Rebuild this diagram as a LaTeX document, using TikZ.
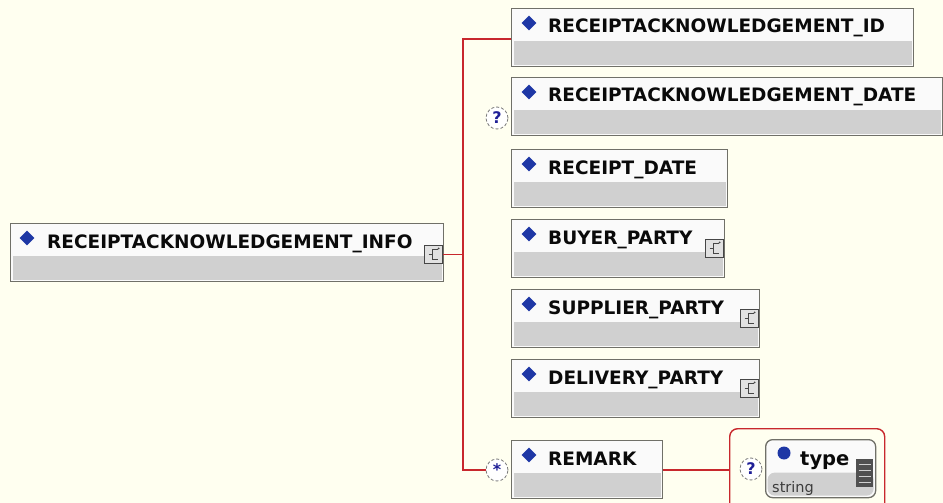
\documentclass[tikz,border=0pt]{standalone}
\usepackage{fontspec}
\setmainfont{DejaVu Sans}
\usetikzlibrary{shapes.geometric}
\definecolor{bgc}{RGB}{255,255,240}
\definecolor{redc}{RGB}{200,40,45}
\definecolor{boxc}{RGB}{112,112,104}
\definecolor{headc}{RGB}{250,250,250}
\definecolor{greyc}{RGB}{208,208,208}
\definecolor{diac}{RGB}{30,55,165}
\definecolor{txtc}{RGB}{10,10,10}
\definecolor{occc}{RGB}{120,120,120}
\definecolor{occt}{RGB}{30,30,150}
\definecolor{icc}{RGB}{70,70,70}
\definecolor{icf}{RGB}{225,225,225}
\definecolor{listc}{RGB}{80,80,80}
\definecolor{strc}{RGB}{60,60,60}
\newcommand{\childel}[4]{%
  \node[elem, minimum width=#3pt] (#1) at (511,#2) {};
  \node[dia] (#1d) at ([xshift=18pt,yshift=-15pt]#1.north west) {};
  \node[lbl] (#1t) at ([xshift=37pt,yshift=-25pt]#1.north west) {#4};
}
\begin{document}
\begin{tikzpicture}[x=1pt,y=-1pt,
  elem/.style={draw=boxc, line width=1.3pt, fill=headc, rectangle, inner sep=0pt,
    anchor=north west, minimum height=58pt,
    path picture={\fill[greyc] ([xshift=2pt,yshift=2pt]path picture bounding box.south west)
      rectangle ([xshift=-2pt,yshift=26pt]path picture bounding box.south east);}},
  lbl/.style={anchor=base west, inner sep=0pt, font=\fontsize{18.5}{20}\selectfont\bfseries, text=txtc},
  dia/.style={diamond, fill=diac, inner sep=0pt, minimum width=15pt, minimum height=15pt},
  occ/.style={circle, draw=occc, densely dashed, line width=0.8pt, fill=white, minimum size=22pt,
    inner sep=0pt, text=occt, font=\fontsize{16}{16}\selectfont\bfseries},
  expicon/.style={rectangle, draw=icc, line width=0.9pt, fill=icf, minimum width=18pt,
    minimum height=18pt, inner sep=0pt, anchor=north east,
    path picture={\draw[icc, line width=0.9pt]
      ([xshift=4pt,yshift=5pt]path picture bounding box.center) --
      ([xshift=-1pt,yshift=5pt]path picture bounding box.center) --
      ([xshift=-1pt,yshift=-5pt]path picture bounding box.center) --
      ([xshift=4pt,yshift=-5pt]path picture bounding box.center)
      ([xshift=-5pt]path picture bounding box.center) --
      ([xshift=-1pt]path picture bounding box.center);
      \fill[icc] ([xshift=5pt,yshift=6pt]path picture bounding box.center) circle (1pt);}},
  conn/.style={draw=redc, line width=1.4pt}
]
\useasboundingbox (0,0) rectangle (943,503);
\fill[bgc] (0,0) rectangle (943,503);
\clip (0,0) rectangle (943,503);

% root element
\node[elem, minimum width=433pt] (root) at (10,223) {};
\node[dia] (rootd) at (27,238) {};
\node[lbl] (roott) at (47,248) {RECEIPTACKNOWLEDGEMENT\_INFO};
\node[expicon] (rooti) at (443,245) {};

% children
\childel{id}{8}{402}{RECEIPTACKNOWLEDGEMENT\_ID}
\childel{date}{77}{431}{RECEIPTACKNOWLEDGEMENT\_DATE}
\childel{rdate}{149}{216}{RECEIPT\_DATE}
\childel{buyer}{219}{213}{BUYER\_PARTY}
\childel{supplier}{289}{248}{SUPPLIER\_PARTY}
\childel{delivery}{359}{248}{DELIVERY\_PARTY}
\childel{remark}{440}{151}{REMARK}

\node[expicon] (buyeri) at (724,239) {};
\node[expicon] (supplieri) at (759,309) {};
\node[expicon] (deliveryi) at (759,379) {};

% occurrence markers
\node[occ] (occdate) at (497,118) {?};
\node[occ] (occrem) at (497,470) {*};

% type
\node[draw=redc, line width=1.4pt, rounded corners=8pt, anchor=north west,
      minimum width=155pt, minimum height=95pt, inner sep=0pt] (tframe) at (729,428) {};
\node[draw=boxc, line width=1.3pt, fill=headc, rounded corners=7pt, anchor=north west,
      minimum width=110pt, minimum height=58pt, inner sep=0pt,
      path picture={\fill[greyc] ([xshift=2pt,yshift=2pt]path picture bounding box.south west)
      rectangle ([xshift=-2pt,yshift=25pt]path picture bounding box.south east);}] (tbox) at (765,439) {};
\node[circle, fill=diac, minimum size=13pt, inner sep=0pt] (tbul) at (784,453) {};
\node[lbl, font=\fontsize{19.5}{20}\selectfont\bfseries] (ttype) at (800,465) {type};
\node[anchor=base west, inner sep=0pt, font=\fontsize{14.5}{15}\selectfont, text=strc] (tstr) at (772,492) {string};
\node[rectangle, fill=listc, anchor=north west, minimum width=17pt, minimum height=28pt, inner sep=0pt,
      path picture={\foreach \dy in {-9,-3,3,9}{\draw[greyc, line width=1.4pt]
        ([xshift=-6pt,yshift=\dy pt]path picture bounding box.center) --
        ([xshift=6pt,yshift=\dy pt]path picture bounding box.center);}}] (tlist) at (856,459) {};
\node[occ] (occtype) at (751,469) {?};

% connectors
\coordinate (jr) at (463,253);
\coordinate (vtop) at (463,39);
\coordinate (vbot) at (463,470);
\coordinate (rj) at (729,470);
\draw[conn] (rooti.east) -- (rooti.east -| jr);
\draw[conn] (vtop -| id.west) -- (vtop) -- (vbot) -- (occrem.west);
\draw[conn] (remark.east |- rj) -- (rj);
\end{tikzpicture}
\end{document}
